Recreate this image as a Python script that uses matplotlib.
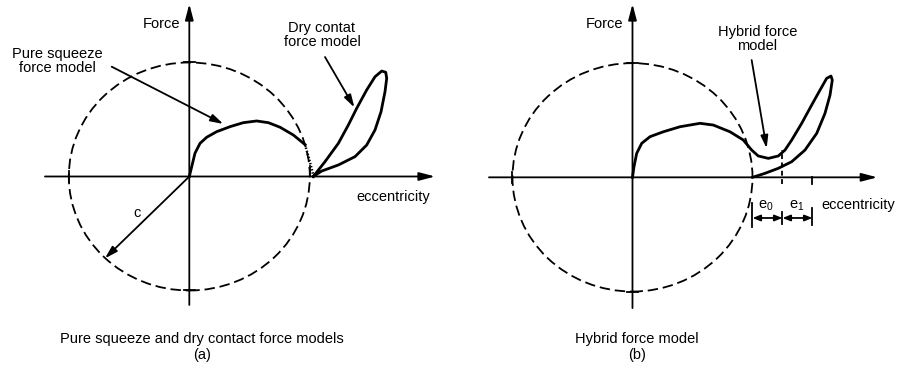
import matplotlib
matplotlib.use('Agg')
import matplotlib.pyplot as plt
from matplotlib.patches import Ellipse

# x in units of the radial clearance c, y = force (arbitrary units)
squeeze_x = [0.0, 0.020, 0.047, 0.089, 0.144, 0.227, 0.338, 0.448, 0.559, 0.656, 0.753, 0.863, 0.960]
squeeze_y = [0.0, 0.086, 0.204, 0.291, 0.344, 0.393, 0.437, 0.472, 0.487, 0.472, 0.432, 0.364, 0.280]

transition_x = [0.960, 0.990, 1.015, 1.029]
transition_y = [0.280, 0.170, 0.070, 0.010]

dry_x = [1.029, 1.126, 1.237, 1.320, 1.389, 1.472, 1.541, 1.597, 1.630, 1.638, 1.624, 1.591,
         1.541, 1.472, 1.375, 1.237, 1.099, 1.029]
dry_y = [0.0, 0.130, 0.291, 0.452, 0.598, 0.759, 0.875, 0.925, 0.914, 0.861, 0.744, 0.568,
         0.408, 0.276, 0.174, 0.101, 0.048, 0.0]

hybrid_x = [0.0, 0.0125, 0.035, 0.077, 0.146, 0.257, 0.396, 0.5625, 0.673, 0.8125, 0.923, 0.993,
            1.048, 1.132, 1.215, 1.271, 1.327, 1.410, 1.493, 1.5625, 1.618, 1.654, 1.665, 1.646,
            1.604, 1.535, 1.4375, 1.327, 1.215, 1.104, 1.0]
hybrid_y = [0.0, 0.093, 0.210, 0.298, 0.356, 0.399, 0.443, 0.473, 0.458, 0.399, 0.327, 0.239,
            0.187, 0.166, 0.187, 0.239, 0.327, 0.473, 0.633, 0.764, 0.867, 0.887, 0.852, 0.720,
            0.560, 0.385, 0.239, 0.137, 0.079, 0.035, 0.0]

# hybrid model thresholds: contact at c, e0 and e1 further on
e_marks = [1.0, 1.25, 1.5]
e_labels = [r'e$_\mathrm{0}$', r'e$_\mathrm{1}$']

plt.rcParams['font.family'] = ['Liberation Sans', 'DejaVu Sans']
plt.rcParams['mathtext.fontset'] = 'custom'
plt.rcParams['mathtext.rm'] = 'Liberation Sans'
plt.rcParams['lines.scale_dashes'] = False

FS = 10.5
K = 'black'
LW = 1.3


def arrow(ax, start, end, lw=LW, head='-|>,head_length=0.75,head_width=0.22', ms=10):
    ax.annotate('', xy=end, xytext=start,
                arrowprops=dict(arrowstyle=head, lw=lw, color=K, shrinkA=0, shrinkB=0,
                                mutation_scale=ms))


def frame(ax, xr, yr):
    arrow(ax, (xr[0], 0), (xr[1], 0), head='-|>,head_length=0.95,head_width=0.25')
    arrow(ax, (0, yr[0]), (0, yr[1]), head='-|>,head_length=0.95,head_width=0.25')
    ax.add_patch(Ellipse((0, 0), 2, 2, fill=False, ec=K, lw=1.3, ls=(0, (7.5, 3.5))))
    # small marks where the clearance circle cuts the axes
    ax.plot([-0.045, 0.045], [1, 1], color=K, lw=LW)
    ax.plot([-0.045, 0.045], [-1, -1], color=K, lw=LW)
    ax.plot([-1, -1], [-0.05, 0.05], color=K, lw=LW)
    ax.text(-0.23, 1.34, 'Force', fontsize=FS, ha='center', va='center')


fig = plt.figure(figsize=(8.98, 3.67), dpi=100)
ax_a = fig.add_axes([0, 0, 0.5, 1])
ax_b = fig.add_axes([0.5, 0, 0.5, 1])
ax_a.set_xlim(-1.571, 2.155)
ax_a.set_ylim(-1.671, 1.548)
ax_b.set_xlim(-1.529, 2.2125)
ax_b.set_ylim(-1.661, 1.553)
for ax in (ax_a, ax_b):
    ax.axis('off')

# (a) pure squeeze + dry contact
frame(ax_a, (-1.198, 2.039), (-1.127, 1.513))
ax_a.plot(squeeze_x, squeeze_y, color=K, lw=2.0, solid_joinstyle='round')
ax_a.plot(transition_x, transition_y, color=K, lw=1.8, ls=(0, (1.0, 1.3)))
ax_a.plot(dry_x, dry_y, color=K, lw=2.0, solid_joinstyle='round')
ax_a.plot([1.0, 1.0], [0, 0.09], color=K, lw=LW)
arrow(ax_a, (0, 0), (-0.70, -0.718))
ax_a.text(-0.437, -0.323, 'c', fontsize=FS, ha='center', va='center')
arrow(ax_a, (-0.644, 0.963), (0.282, 0.461))
arrow(ax_a, (1.126, 1.048), (1.370, 0.605))
ax_a.text(-1.098, 1.013, 'Pure squeeze\nforce model', fontsize=FS, ha='center', va='center',
          linespacing=0.95)
ax_a.text(1.101, 1.241, 'Dry contat\nforce model', fontsize=FS, ha='center', va='center',
          linespacing=0.95)
ax_a.text(1.69, -0.18, 'eccentricity', fontsize=FS, ha='center', va='center')
ax_a.text(0.105, -1.496, 'Pure squeeze and dry contact force models\n(a)', fontsize=FS,
          ha='center', va='center', linespacing=1.2)

# (b) hybrid model
frame(ax_b, (-1.196, 2.04), (-1.145, 1.518))
ax_b.plot(hybrid_x, hybrid_y, color=K, lw=2.0, solid_joinstyle='round')
ax_b.plot([e_marks[1], e_marks[1]], [-0.06, 0.24], color=K, lw=LW, ls=(0, (3.5, 2.5)))
ax_b.plot([e_marks[2], e_marks[2]], [-0.06, 0], color=K, lw=LW)
ax_b.plot([e_marks[0], e_marks[0]], [-0.225, -0.435], color=K, lw=LW)
ax_b.plot([e_marks[1], e_marks[1]], [-0.30, -0.41], color=K, lw=LW)
ax_b.plot([e_marks[2], e_marks[2]], [-0.27, -0.42], color=K, lw=LW)
for i in range(2):
    arrow(ax_b, (e_marks[i], -0.356), (e_marks[i + 1], -0.356),
          head='<|-|>,head_length=0.45,head_width=0.18')
    ax_b.text((e_marks[i] + e_marks[i + 1]) / 2 - 0.01, -0.25, e_labels[i], fontsize=FS,
              ha='center', va='center')
arrow(ax_b, (0.993, 1.027), (1.118, 0.254))
ax_b.text(1.04, 1.213, 'Hybrid force\nmodel', fontsize=FS, ha='center', va='center',
          linespacing=0.95)
ax_b.text(1.88, -0.243, 'eccentricity', fontsize=FS, ha='center', va='center')
ax_b.text(0.04, -1.484, 'Hybrid force model\n(b)', fontsize=FS, ha='center', va='center',
          linespacing=1.2)

fig.savefig('out.png', dpi=100)
